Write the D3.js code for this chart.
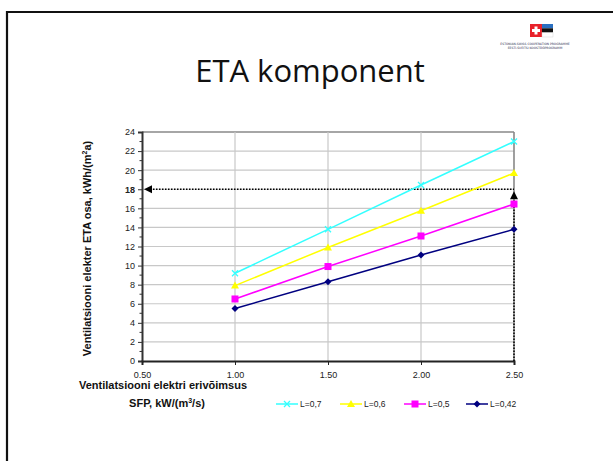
<!DOCTYPE html>
<html><head><meta charset="utf-8">
<script src="https://cdn.jsdelivr.net/npm/d3@7/dist/d3.min.js"></script>
<style>body{margin:0;background:#fff}svg{display:block}</style>
</head><body>
<script>
const sfp = [1.00, 1.50, 2.00, 2.50];
const seriesNames = ["L=0,7", "L=0,6", "L=0,5", "L=0,42"];
const seriesValues = [
  [9.2, 13.8, 18.45, 23.0],
  [7.9, 11.9, 15.75, 19.7],
  [6.5, 9.9, 13.1, 16.45],
  [5.5, 8.3, 11.1, 13.8]
];
const seriesColors = ["#33ffff", "#ffff00", "#ff00ff", "#000080"];
const seriesMarkers = ["x", "triangle", "square", "diamond"];
const xTicks = [0.5, 1.0, 1.5, 2.0, 2.5];
const yTicks = [0, 2, 4, 6, 8, 10, 12, 14, 16, 18, 20, 22, 24];
const targetY = 18;
const targetX = 2.5;

const W = 613, H = 461;
const svg = d3.select("body").append("svg").attr("width", W).attr("height", H);

// slide frame
svg.append("path").attr("d", `M7,${H+5} L7,12 L${W+5},12`).attr("fill", "none").attr("stroke", "#111").attr("stroke-width", 2.2);

// title
svg.append("text").attr("x", 310).attr("y", 82).attr("text-anchor", "middle")
  .attr("font-family", "Open Sans, Lato, sans-serif").attr("font-size", 31).attr("fill", "#111").text("ETA komponent");

// logo
const lg = svg.append("g");
lg.append("rect").attr("x", 530).attr("y", 24).attr("width", 12).attr("height", 13).attr("fill", "#e8212a");
lg.append("rect").attr("x", 534.5).attr("y", 26.5).attr("width", 3).attr("height", 8).attr("fill", "#fff");
lg.append("rect").attr("x", 532).attr("y", 29).attr("width", 8).attr("height", 3).attr("fill", "#fff");
lg.append("rect").attr("x", 542).attr("y", 24).attr("width", 11).attr("height", 4.3).attr("fill", "#2a6fc0");
lg.append("rect").attr("x", 542).attr("y", 28.3).attr("width", 11).attr("height", 4.3).attr("fill", "#111");
lg.append("rect").attr("x", 542).attr("y", 32.6).attr("width", 11).attr("height", 4.4).attr("fill", "#fff").attr("stroke", "#ccc").attr("stroke-width", 0.4);
lg.append("text").attr("x", 535).attr("y", 45).attr("text-anchor", "middle").attr("font-family", "DejaVu Sans").attr("font-size", 3).attr("fill", "#335").text("ESTONIAN-SWISS COOPERATION PROGRAMME");
lg.append("text").attr("x", 535).attr("y", 49).attr("text-anchor", "middle").attr("font-family", "DejaVu Sans").attr("font-size", 3).attr("fill", "#335").text("EESTI-ŠVEITSI KOOSTÖÖPROGRAMM");

// chart
const x = d3.scaleLinear().domain([0.5, 2.5]).range([142, 514]);
const y = d3.scaleLinear().domain([0, 24]).range([361, 132]);

// gridlines
const g = svg.append("g");
g.selectAll("line.hg").data(yTicks.filter(d => d > 0)).join("line")
  .attr("x1", x(0.5)).attr("x2", x(2.5)).attr("y1", d => y(d)).attr("y2", d => y(d))
  .attr("stroke", d => d === 24 ? "#888" : "#c8c8c8").attr("stroke-width", d => d === 24 ? 1.6 : 1.2);
g.selectAll("line.vg").data(xTicks.filter(d => d > 0.5)).join("line")
  .attr("x1", d => x(d)).attr("x2", d => x(d)).attr("y1", y(0)).attr("y2", y(24))
  .attr("stroke", d => d === 2.5 ? "#888" : "#c8c8c8").attr("stroke-width", d => d === 2.5 ? 1.6 : 1.2);

// axes
const yAxis = d3.axisLeft(y).tickValues(yTicks).tickSize(4).tickFormat(d3.format("d"));
const ya = svg.append("g").attr("transform", `translate(${x(0.5)},0)`).call(yAxis);
ya.select(".domain").attr("stroke", "#333").attr("stroke-width", 2);
ya.selectAll(".tick line").attr("stroke", "#333");
ya.selectAll("text").attr("font-family", "Liberation Sans, Arial, sans-serif").attr("font-size", 9).attr("fill", "#222")
  .attr("font-weight", d => d === 18 ? "bold" : "normal").attr("x", -7);
const minor = d3.range(1, 24, 2);
svg.append("g").selectAll("line").data(minor).join("line")
  .attr("x1", x(0.5) - 2.5).attr("x2", x(0.5)).attr("y1", d => y(d)).attr("y2", d => y(d)).attr("stroke", "#333");

const xAxis = d3.axisBottom(x).tickValues(xTicks).tickSize(4).tickFormat(d3.format(".2f"));
const xa = svg.append("g").attr("transform", `translate(0,${y(0)})`).call(xAxis);
xa.select(".domain").attr("stroke", "#222").attr("stroke-width", 2);
xa.selectAll(".tick line").attr("stroke", "#222");
xa.selectAll("text").attr("font-family", "Liberation Sans, Arial, sans-serif").attr("font-size", 9).attr("fill", "#222").attr("dy", "1.1em");

// dotted reference lines
svg.append("line").attr("x1", x(0.5) + 8).attr("x2", x(targetX)).attr("y1", y(targetY)).attr("y2", y(targetY))
  .attr("stroke", "#000").attr("stroke-width", 1.5).attr("stroke-dasharray", "1.5,1.5");
svg.append("line").attr("x1", x(targetX)).attr("x2", x(targetX)).attr("y1", y(0)).attr("y2", y(targetY) + 8)
  .attr("stroke", "#000").attr("stroke-width", 1.5).attr("stroke-dasharray", "1.5,1.5");
svg.append("path").attr("d", `M${x(0.5) + 2},${y(targetY)} l8,-4 l0,8 z`).attr("fill", "#000");
svg.append("path").attr("d", `M${x(targetX)},${y(targetY) + 2} l-4,8 l8,0 z`).attr("fill", "#000");

// markers
function marker(sel, type, color, cx, cy) {
  if (type === "x") {
    sel.append("path").attr("d", `M${cx-3},${cy-3}L${cx+3},${cy+3}M${cx-3},${cy+3}L${cx+3},${cy-3}`).attr("stroke", color).attr("stroke-width", 1.3);
  } else if (type === "triangle") {
    sel.append("path").attr("d", `M${cx},${cy-4}L${cx+4},${cy+3}L${cx-4},${cy+3}Z`).attr("fill", color);
  } else if (type === "square") {
    sel.append("rect").attr("x", cx - 3.5).attr("y", cy - 3.5).attr("width", 7).attr("height", 7).attr("fill", color);
  } else {
    sel.append("path").attr("d", `M${cx},${cy-3.5}L${cx+3.5},${cy}L${cx},${cy+3.5}L${cx-3.5},${cy}Z`).attr("fill", color);
  }
}

const line = d3.line().x((d, i) => x(sfp[i])).y(d => y(d));
seriesValues.forEach((vals, s) => {
  const sg = svg.append("g");
  sg.append("path").attr("d", line(vals)).attr("fill", "none").attr("stroke", seriesColors[s]).attr("stroke-width", 1.5);
  vals.forEach((v, i) => marker(sg, seriesMarkers[s], seriesColors[s], x(sfp[i]), y(v)));
});

// axis titles
svg.append("text").attr("transform", `translate(91,${(y(0) + y(24)) / 2 + 2}) rotate(-90)`).attr("text-anchor", "middle")
  .attr("font-family", "Liberation Sans, Arial, sans-serif").attr("font-size", 11).attr("font-weight", "bold").attr("fill", "#111")
  .html('Ventilatsiooni elekter ETA osa, kWh/(m<tspan dy="-4" font-size="7">2</tspan><tspan dy="4">a)</tspan>');
svg.append("text").attr("x", 163).attr("y", 389).attr("text-anchor", "middle")
  .attr("font-family", "Liberation Sans, Arial, sans-serif").attr("font-size", 11).attr("font-weight", "bold").attr("fill", "#111")
  .text("Ventilatsiooni elektri erivõimsus");
svg.append("text").attr("x", 167).attr("y", 407).attr("text-anchor", "middle")
  .attr("font-family", "Liberation Sans, Arial, sans-serif").attr("font-size", 11).attr("font-weight", "bold").attr("fill", "#111")
  .html('SFP, kW/(m<tspan dy="-4" font-size="7">3</tspan><tspan dy="4">/s)</tspan>');

// legend
const legX = [276, 340, 404, 466];
seriesNames.forEach((n, s) => {
  const lg2 = svg.append("g");
  const ly = 404;
  lg2.append("line").attr("x1", legX[s]).attr("x2", legX[s] + 22).attr("y1", ly).attr("y2", ly).attr("stroke", seriesColors[s]).attr("stroke-width", 1.5);
  marker(lg2, seriesMarkers[s], seriesColors[s], legX[s] + 11, ly);
  lg2.append("text").attr("x", legX[s] + 24).attr("y", ly + 3).attr("font-family", "Liberation Sans, Arial, sans-serif").attr("font-size", 8.5).attr("fill", "#222").text(n);
});
</script>
</body></html>
